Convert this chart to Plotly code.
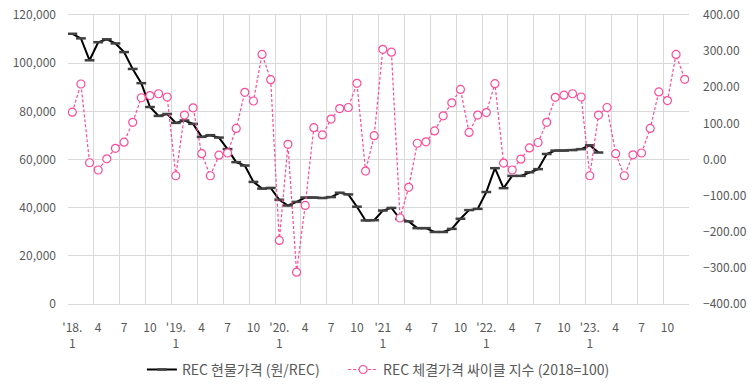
import plotly.graph_objects as go

# Months 2018.1 .. 2023.12 (index positions)
months = [f"{y}.{m}" for y in range(2018, 2024) for m in range(1, 13)]

# REC spot price (won/REC), 2018.1 .. 2023.2
rec_price = [112200, 110300, 101200, 108700, 109900, 108200, 104600, 97600, 91700, 81800, 78100, 78900,
             75200, 76200, 74800, 69400, 70100, 69100, 64300, 58900, 57500, 50700, 47900, 48200,
             43300, 40900, 42400, 44200, 44200, 44000, 44400, 46200, 45500, 40400, 34700, 34800,
             38800, 39900, 35300, 34300, 31500, 31500, 29900, 29900, 31200, 35400, 39000, 39500,
             46500, 56400, 48100, 53200, 53200, 54700, 56000, 62300, 63700, 63700, 63900, 64300,
             65900, 62900]

# REC contract price cycle index (2018=100), 2018.1 .. 2023.12
cycle_index = [131, 209, -9, -29, 2, 31, 48, 103, 171, 177, 182, 173,
               -45, 123, 143, 16, -45, 12, 18, 86, 186, 162, 291, 221,
               -224, 42, -312, -127, 88, 68, 112, 141, 144, 211, -32, 66,
               305, 297, -162, -77, 45, 49, 79, 121, 157, 194, 75, 123,
               130, 210, -10, -29, 1, 32, 47, 103, 172, 178, 182, 173,
               -45, 123, 144, 16, -45, 13, 18, 86, 187, 163, 291, 222]

tick_pos = list(range(0, 72, 3))
tick_text = ["'18.<br>1", "4", "7", "10", "'19.<br>1", "4", "7", "10",
             "'20.<br>1", "4", "7", "10", "'21<br>1", "4", "7", "10",
             "'22.<br>1", "4", "7", "10", "'23.<br>1", "4", "7", "10"]

name_price = "REC 현물가격 (원/REC)"
name_cycle = "REC 체결가격 싸이클 지수 (2018=100)"

FONT = "Noto Sans CJK KR"
GRID = "#d9d9d9"
TXT = "#595959"
PINK = "#ff4a9a"

x_price = list(range(len(rec_price)))
x_cycle = list(range(len(cycle_index)))

fig = go.Figure()
fig.add_trace(go.Scatter(
    x=x_price, y=rec_price, name=name_price, mode="lines+markers",
    line=dict(color="#000000", width=2),
    marker=dict(symbol="line-ew", size=7, color="#404040",
                line=dict(color="#404040", width=2.5)),
    yaxis="y", legend="legend"))
fig.add_trace(go.Scatter(
    x=x_cycle, y=cycle_index, name=name_cycle, mode="lines+markers",
    line=dict(color=PINK, width=1.2, dash="3px,2px"),
    marker=dict(symbol="circle", size=8, color="white",
                line=dict(color=PINK, width=1.2)),
    yaxis="y2", legend="legend2"))

leg_common = dict(orientation="h", y=-0.228, yanchor="middle", xanchor="left",
                  font=dict(size=14, color=TXT), bgcolor="rgba(0,0,0,0)",
                  borderwidth=0, itemwidth=30)

fig.update_layout(
    width=756, height=389,
    margin=dict(l=68, r=67, t=15, b=85, autoexpand=False),
    paper_bgcolor="white", plot_bgcolor="white",
    font=dict(family=FONT, size=12, color=TXT),
    showlegend=True,
    legend=dict(x=0.119, **leg_common),
    legend2=dict(x=0.443, **leg_common),
    xaxis=dict(range=[-0.5, 71.5], tickmode="array", tickvals=tick_pos, ticktext=tick_text,
               showgrid=False, zeroline=False, ticks="", automargin=False,
               showline=True, linecolor=GRID, linewidth=1, mirror=True,
               ticklabelstandoff=13,
               minor=dict(tickmode="array", tickvals=[-0.5 + 3 * k for k in range(25)],
                          showgrid=True, gridcolor=GRID, gridwidth=1, ticks="")),
    yaxis=dict(range=[0, 120000], tickmode="linear", tick0=0, dtick=20000, tickformat=",",
               showgrid=True, gridcolor=GRID, gridwidth=1, zeroline=False, ticks="",
               showline=False, ticklabelstandoff=11, automargin=False),
    yaxis2=dict(range=[-400, 400], tickmode="linear", tick0=-400, dtick=100, tickformat=".2f",
                overlaying="y", side="right", showgrid=False, zeroline=False, ticks="",
                showline=False, ticklabelstandoff=13, automargin=False),
)

fig.write_html("out.html",
               config={"displayModeBar": False},
               post_script="document.body.style.margin='0';document.body.style.overflow='hidden';")
